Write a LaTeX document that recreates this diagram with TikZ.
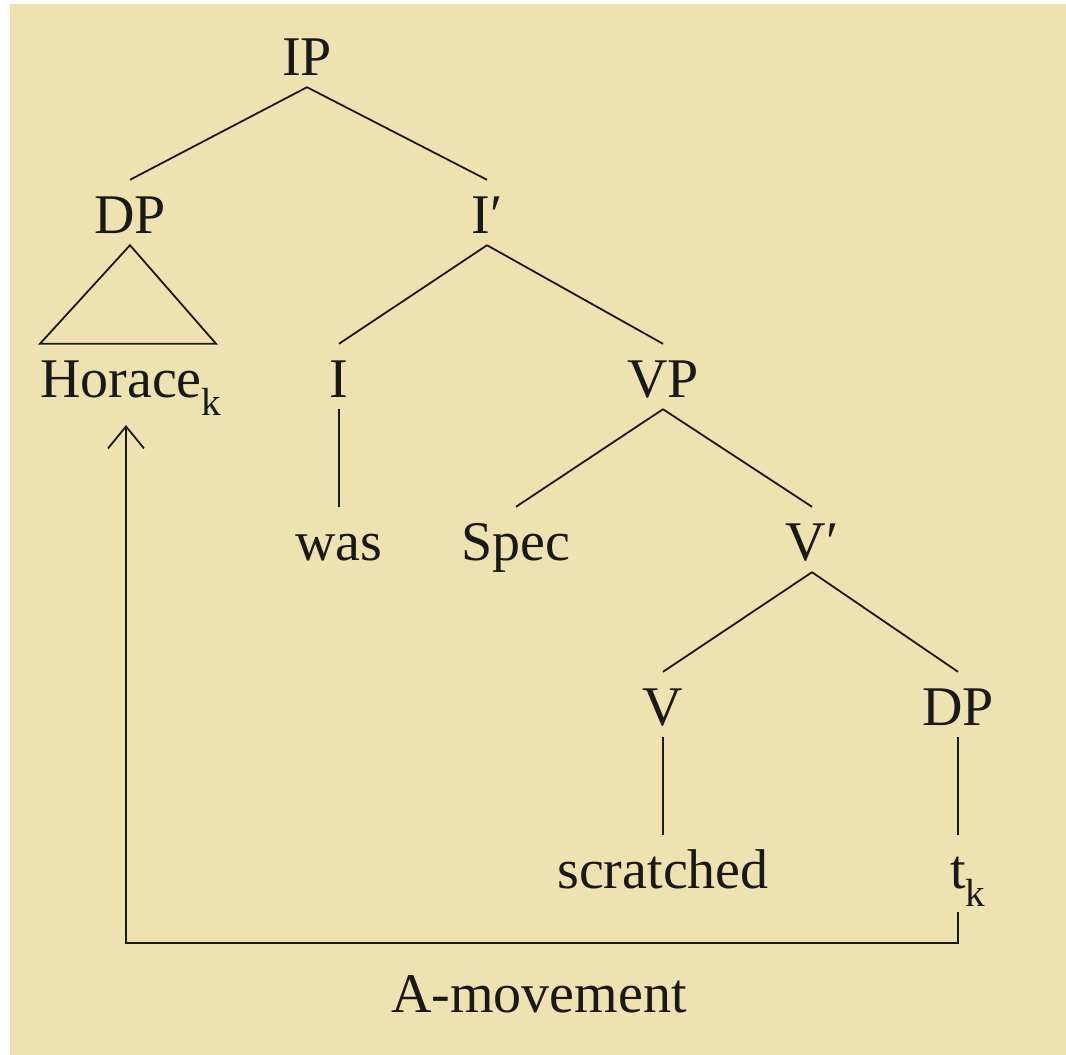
\documentclass[tikz,border=0pt]{standalone}
\usepackage{fontspec}
\setmainfont{Liberation Serif}
\usetikzlibrary{arrows.meta}
\definecolor{bg}{RGB}{238,226,176}
\definecolor{ink}{RGB}{25,25,25}
\begin{document}
\begin{tikzpicture}[x=1pt,y=-1pt,
  lab/.style={anchor=base, inner sep=0pt, text height=53pt, text depth=12pt,
    font=\fontsize{56}{60}\selectfont, text=ink},
  edge/.style={draw=ink, line width=1.8pt},
  mv/.style={draw=ink, line width=1.8pt, line join=miter,
    -{Straight Barb[length=22pt,width=36pt,line width=1.8pt]}}]
\useasboundingbox (0,0) rectangle (1066,1055);
\fill[white] (0,0) rectangle (1066,1055);
\fill[bg] (10,4) rectangle (1066,1055);
% nodes
\node[lab] (IP)   at (307,75)  {IP};
\node[lab] (DPl)  at (130,233) {DP};
\node[lab] (Ib)   at (487,233) {I′};
\node[lab] (Hor)  at (131,397) {Horace\textsubscript{k}};
\node[lab] (I)    at (339,397) {I};
\node[lab] (VP)   at (663,397) {VP};
\node[lab] (was)  at (339,560) {was};
\node[lab] (Spec) at (516,560) {Spec};
\node[lab] (Vb)   at (812,560) {V′};
\node[lab] (V)    at (663,725) {V};
\node[lab] (DPr)  at (958,725) {DP};
\node[lab] (scr)  at (663,888) {scratched};
\node[lab] (tk)   at (958,888) {t\rlap{\textsubscript{k}}};
\node[lab] (Amov) at (539,1012) {A-movement};
% edges
\draw[edge] (IP.south) -- (DPl.north);
\draw[edge] (IP.south) -- (Ib.north);
\draw[edge] (DPl.south) -- (Hor.north west) -- ([xshift=-6pt]Hor.north east) -- cycle;
\draw[edge] (Ib.south) -- (I.north);
\draw[edge] (Ib.south) -- (VP.north);
\draw[edge] (I.south) -- (was.north);
\draw[edge] (VP.south) -- (Spec.north);
\draw[edge] (VP.south) -- (Vb.north);
\draw[edge] (Vb.south) -- (V.north);
\draw[edge] (Vb.south) -- (DPr.north);
\draw[edge] (V.south) -- (scr.north);
\draw[edge] (DPr.south) -- (tk.north);
% movement arrow
\coordinate (turnR) at (958,943);
\coordinate (turnL) at (126,943);
\coordinate (tip) at (126,425);
\draw[mv, shorten <=12pt] (tk.south) -- (turnR) -- (turnL) -- (tip);
\end{tikzpicture}
\end{document}
